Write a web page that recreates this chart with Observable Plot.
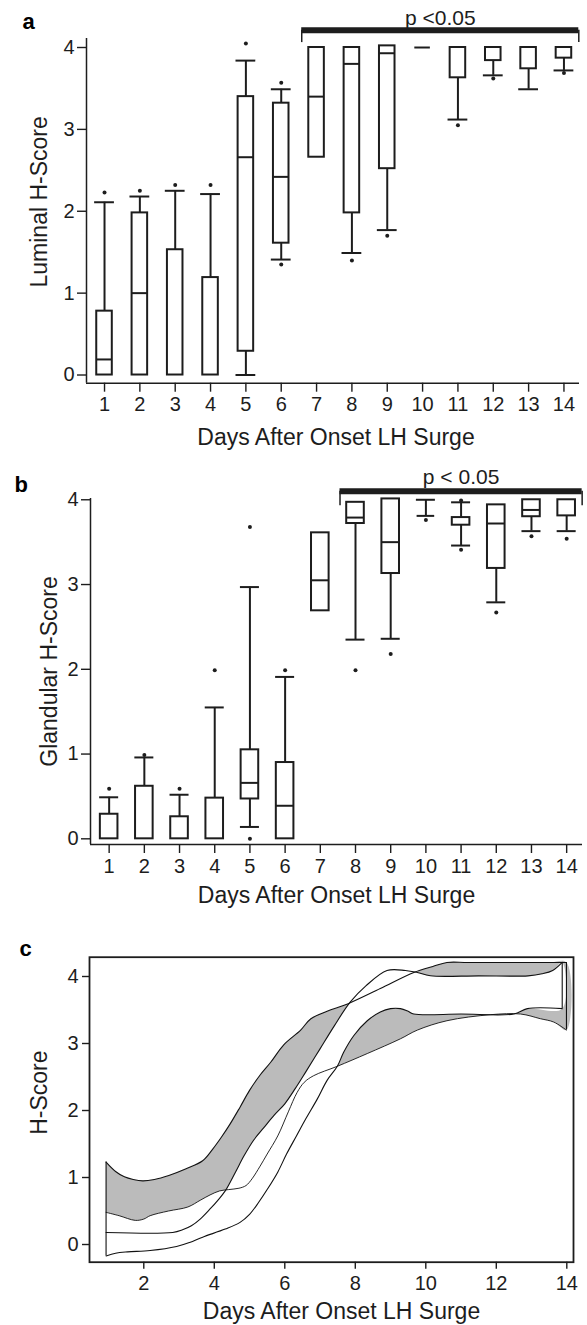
<!DOCTYPE html>
<html>
<head>
<meta charset="utf-8">
<script src="https://cdn.jsdelivr.net/npm/d3@7"></script>
<script src="https://cdn.jsdelivr.net/npm/@observablehq/plot@0.6"></script>
<style>
  html, body { margin: 0; padding: 0; background: #fff; }
  #chart { width: 587px; }
  #chart svg { display: block; }
</style>
</head>
<body>
<div id="chart"></div>
<script>
// ---------- shared ----------
const days = [1, 2, 3, 4, 5, 6, 7, 8, 9, 10, 11, 12, 13, 14];
const yTicks = [0, 1, 2, 3, 4];
const cTicksX = [2, 4, 6, 8, 10, 12, 14];
const xTitle = "Days After Onset LH Surge";

// ---------- panel a : Luminal H-Score ----------
const lumQ1  = [0, 0, 0, 0, 0.29, 1.61, 2.66, 1.98, 2.52, 4.00, 3.63, 3.84, 3.74, 3.87];
const lumMed = [0.19, 1.00, null, null, 2.66, 2.42, 3.40, 3.80, 3.93, 4.00, null, null, null, null];
const lumQ3  = [0.78, 1.98, 1.53, 1.19, 3.40, 3.32, 4.00, 4.00, 4.02, 4.00, 4.00, 4.00, 4.00, 4.00];
const lumLo  = [0, 0, 0, 0, 0, 1.41, 2.66, 1.49, 1.77, 4.00, 3.12, 3.66, 3.49, 3.72];
const lumHi  = [2.11, 2.18, 2.25, 2.21, 3.84, 3.49, 4.00, 4.00, 4.02, 4.00, 4.00, 4.00, 4.00, 4.00];
const lumOutDay = [1, 2, 3, 4, 5, 6, 6, 8, 9, 11, 12, 14];
const lumOutVal = [2.23, 2.25, 2.32, 2.32, 4.05, 3.57, 1.35, 1.40, 1.70, 3.05, 3.62, 3.69];
const lumSigDays = [7, 14];

// ---------- panel b : Glandular H-Score ----------
const glaQ1  = [0, 0, 0, 0, 0.47, 0, 2.69, 3.72, 3.13, 3.81, 3.70, 3.19, 3.80, 3.81];
const glaMed = [null, null, null, null, 0.66, 0.39, 3.05, 3.79, 3.50, 3.81, null, 3.72, 3.88, null];
const glaQ3  = [0.29, 0.62, 0.26, 0.48, 1.05, 0.90, 3.61, 3.97, 4.01, 3.81, 3.79, 3.94, 4.00, 4.00];
const glaLo  = [0, 0, 0, 0, 0.14, 0, 2.69, 2.35, 2.36, 3.81, 3.46, 2.79, 3.63, 3.63];
const glaHi  = [0.49, 0.96, 0.52, 1.55, 2.97, 1.91, 3.61, 3.97, 4.01, 4.00, 3.97, 3.94, 4.00, 4.00];
const glaOutDay = [1, 2, 3, 4, 5, 5, 6, 8, 9, 10, 11, 11, 12, 13, 14];
const glaOutVal = [0.59, 0.99, 0.59, 1.99, 3.68, 0.00, 1.99, 1.99, 2.18, 3.76, 3.99, 3.41, 2.67, 3.57, 3.54];
const glaSigDays = [8, 14];

// ---------- panel c : confidence bands [day, H-score] ----------
const lumUpperC = [[0.93,1.23],[1.2,1.09],[1.45,1.01],[1.7,0.97],[1.97,0.95],[2.3,0.97],[2.71,1.03],[3.2,1.13],[3.67,1.25],[3.95,1.42],[4.2,1.6],[4.45,1.8],[4.73,2.05],[5.0,2.3],[5.3,2.53],[5.6,2.72],[5.97,2.98],[6.45,3.2],[6.74,3.37],[7.2,3.48],[7.78,3.59],[8.71,3.82],[9.66,4.06],[10.2,4.15],[10.6,4.21],[11.2,4.21],[13.5,4.21],[13.99,4.21]];
const lumLowerC = [[0.93,0.48],[1.3,0.43],[1.76,0.36],[2.0,0.38],[2.18,0.43],[2.7,0.5],[3.25,0.56],[3.6,0.66],[3.88,0.74],[4.15,0.8],[4.41,0.82],[4.7,0.84],[4.9,0.88],[5.07,0.98],[5.3,1.17],[5.5,1.35],[5.8,1.62],[6.1,1.98],[6.35,2.27],[6.55,2.42],[6.82,2.52],[7.49,2.66],[8.34,2.85],[9.28,3.07],[9.76,3.2],[10.6,3.34],[11.84,3.43],[12.69,3.44],[13.25,3.37],[13.63,3.32],[13.99,3.2]];
const glaUpperC = [[0.93,0.18],[2.82,0.18],[3.1,0.22],[3.35,0.28],[3.6,0.38],[3.88,0.53],[4.1,0.66],[4.31,0.8],[4.6,1.08],[4.84,1.32],[5.12,1.56],[5.4,1.74],[5.7,1.93],[6.0,2.1],[6.3,2.33],[6.6,2.58],[7.0,2.92],[7.4,3.26],[7.86,3.62],[8.3,3.86],[8.9,4.09],[9.42,4.09],[9.76,4.06],[10.13,4.01],[11.5,4.01],[12.9,4.01],[13.3,4.04],[13.6,4.09],[13.87,4.21]];
const glaLowerC = [[0.93,-0.17],[1.2,-0.13],[1.54,-0.11],[2.18,-0.09],[2.93,-0.03],[3.3,0.03],[3.67,0.11],[4.31,0.23],[4.73,0.33],[5.0,0.45],[5.26,0.63],[5.5,0.82],[5.8,1.08],[6.05,1.35],[6.33,1.62],[6.6,1.88],[6.92,2.17],[7.2,2.45],[7.49,2.66],[7.67,2.87],[7.96,3.12],[8.34,3.34],[8.71,3.47],[9.0,3.52],[9.28,3.52],[9.5,3.48],[9.66,3.44],[11.0,3.44],[12.5,3.44],[12.88,3.52],[13.87,3.52]];

// ---------- drawing ----------
const INK = "#1d1d1d";
const FONT = "'Liberation Sans', Arial, Helvetica, sans-serif";

function boxPanel(o) {
  const rows = days.map((day, i) => ({day, q1: o.q1[i], med: o.med[i], q3: o.q3[i], lo: o.lo[i], hi: o.hi[i]}));
  const outs = o.outDay.map((day, i) => ({day, v: o.outVal[i]}));
  const upper = rows.filter(d => d.hi > d.q3);
  const lower = rows.filter(d => d.lo < d.q1);
  const sw = 2;
  const barX1 = o.sig[0] - o.sigPad, barX2 = o.sig[1] + o.sigPad;
  return Plot.plot({
    width: 587, height: o.height,
    marginLeft: o.ml, marginRight: o.mr, marginTop: o.mt, marginBottom: o.mb,
    x: {domain: o.xDomain, axis: null, label: null},
    y: {domain: o.yDomain, axis: null, label: null},
    style: {fontFamily: FONT, fontSize: "20px", color: INK, background: "white", overflow: "visible"},
    marks: [
      Plot.ruleX([o.xDomain[0]], {stroke: INK, strokeWidth: 1.5}),
      Plot.ruleY([o.yDomain[0]], {stroke: INK, strokeWidth: 1.5}),
      Plot.axisX({ticks: days, tickSize: 9, tickPadding: 5, label: null, tickFormat: d => String(d), strokeWidth: 1.4}),
      Plot.axisY({ticks: yTicks, tickSize: 9, tickPadding: 3, label: null, tickFormat: d => String(d), strokeWidth: 1.4}),
      // whiskers
      Plot.ruleX(upper, {x: "day", y1: "q3", y2: "hi", stroke: INK, strokeWidth: sw}),
      Plot.ruleX(lower, {x: "day", y1: "lo", y2: "q1", stroke: INK, strokeWidth: sw}),
      Plot.ruleY(upper, {y: "hi", x1: d => d.day - o.capW, x2: d => d.day + o.capW, stroke: INK, strokeWidth: sw}),
      Plot.ruleY(lower, {y: "lo", x1: d => d.day - o.capW, x2: d => d.day + o.capW, stroke: INK, strokeWidth: sw}),
      // boxes
      Plot.rect(rows, {x1: d => d.day - o.boxW, x2: d => d.day + o.boxW, y1: "q1", y2: "q3", fill: "white", stroke: INK, strokeWidth: sw}),
      Plot.ruleY(rows.filter(d => d.med != null), {y: "med", x1: d => d.day - o.boxW, x2: d => d.day + o.boxW, stroke: INK, strokeWidth: sw}),
      // outliers
      Plot.dot(outs, {x: "day", y: "v", r: 2, fill: INK, stroke: "none"}),
      // significance bar
      Plot.ruleY([o.sig], {y: o.barY, x1: () => barX1, x2: () => barX2, stroke: INK, strokeWidth: 6}),
      Plot.ruleX([barX1, barX2], {x: d => d, y1: o.barY, y2: o.barTickY, stroke: INK, strokeWidth: 1.5}),
      Plot.text([o.pLabel], {x: () => (barX1 + barX2) / 2, y: o.pY, fontSize: 21, fill: INK, lineAnchor: "middle"}),
      // labels
      Plot.text([o.yLabel], {frameAnchor: "left", rotate: -90, dx: o.yLabDx, dy: o.yLabDy, fontSize: 23, fill: INK, lineAnchor: "middle", textAnchor: "middle"}),
      Plot.text([xTitle], {frameAnchor: "bottom", dy: o.xTitleDy, dx: o.xTitleDx, fontSize: 23, fill: INK, lineAnchor: "middle"}),
      Plot.text([o.letter], {frameAnchor: "top-left", dx: o.letDx, dy: o.letDy, fontSize: 22, fontWeight: "bold", fill: "#000", lineAnchor: "middle", textAnchor: "middle"})
    ]
  });
}

const svgA = boxPanel({
  height: 455, ml: 86, mr: 8, mt: 38, mb: 72.3,
  xDomain: [0.49, 14.44], yDomain: [-0.10, 4.11],
  q1: lumQ1, med: lumMed, q3: lumQ3, lo: lumLo, hi: lumHi, outDay: lumOutDay, outVal: lumOutVal,
  boxW: 0.22, capW: 0.28,
  sig: lumSigDays, sigPad: 0.42, barY: 4.21, barTickY: 4.06, pLabel: "p <0.05", pY: 4.36,
  yLabel: "Luminal H-Score", yLabDx: -47, yLabDy: -9,
  xTitleDy: 54, xTitleDx: 3,
  letter: "a", letDx: -58, letDy: -16.7
});

const svgB = boxPanel({
  height: 455, ml: 90, mr: 5, mt: 43, mb: 66,
  xDomain: [0.47, 14.45], yDomain: [-0.067, 4.015],
  q1: glaQ1, med: glaMed, q3: glaQ3, lo: glaLo, hi: glaHi, outDay: glaOutDay, outVal: glaOutVal,
  boxW: 0.25, capW: 0.27,
  sig: glaSigDays, sigPad: 0.44, barY: 4.10, barTickY: 3.93, pLabel: "p < 0.05", pY: 4.263,
  yLabel: "Glandular H-Score", yLabDx: -41.3, yLabDy: 0,
  xTitleDy: 51, xTitleDx: 0,
  letter: "b", letDx: -69.4, letDy: -13.3
});

// panel c
const polyLum = [...lumUpperC, ...lumLowerC.slice().reverse()];
const polyGla = [...glaUpperC, ...glaLowerC.slice().reverse()];
const px = d => d[0], py = d => d[1];
const first = a => a[0], last = a => a[a.length - 1];
const edges = [
  {x: first(lumUpperC)[0], y1: first(glaLowerC)[1], y2: first(lumUpperC)[1]},
  {x: last(glaUpperC)[0], y1: last(glaLowerC)[1], y2: last(glaUpperC)[1]},
  {x: last(lumUpperC)[0], y1: last(lumLowerC)[1], y2: last(lumUpperC)[1]}
];

const svgC = Plot.plot({
  width: 587, height: 415,
  marginLeft: 89, marginRight: 14, marginTop: 46.7, marginBottom: 63.3,
  x: {domain: [0.46, 14.19], axis: null, label: null},
  y: {domain: [-0.264, 4.288], axis: null, label: null},
  style: {fontFamily: FONT, fontSize: "20px", color: INK, background: "white", overflow: "visible"},
  marks: [
    Plot.line(polyLum, {x: px, y: py, fill: "#bbbbbb", stroke: "none", curve: "catmull-rom"}),
    Plot.line(polyGla, {x: px, y: py, fill: "white", stroke: "none", curve: "catmull-rom"}),
    Plot.line(lumUpperC, {x: px, y: py, stroke: "#111", strokeWidth: 1.1, curve: "catmull-rom"}),
    Plot.line(lumLowerC, {x: px, y: py, stroke: "#111", strokeWidth: 0.9, curve: "catmull-rom"}),
    Plot.line(glaUpperC, {x: px, y: py, stroke: "#111", strokeWidth: 1.1, curve: "catmull-rom"}),
    Plot.line(glaLowerC, {x: px, y: py, stroke: "#111", strokeWidth: 1.1, curve: "catmull-rom"}),
    Plot.ruleX(edges, {x: "x", y1: "y1", y2: "y2", stroke: "#111", strokeWidth: 1.1}),
    Plot.frame({stroke: INK, strokeWidth: 1.8}),
    Plot.axisX({ticks: cTicksX, tickSize: 7, tickPadding: 7, label: null, tickFormat: d => String(d), strokeWidth: 1.4}),
    Plot.axisY({ticks: yTicks, tickSize: 7, tickPadding: 4, label: null, tickFormat: d => String(d), strokeWidth: 1.4}),
    Plot.text(["H-Score"], {frameAnchor: "left", rotate: -90, dx: -50, dy: -17, fontSize: 23, fill: INK, lineAnchor: "middle", textAnchor: "middle"}),
    Plot.text([xTitle], {frameAnchor: "bottom", dy: 49.5, dx: 10, fontSize: 23, fill: INK, lineAnchor: "middle"}),
    Plot.text(["c"], {frameAnchor: "top-left", dx: -64, dy: -8.7, fontSize: 22, fontWeight: "bold", fill: "#000", lineAnchor: "middle", textAnchor: "middle"})
  ]
});

const chart = document.getElementById("chart");
chart.append(svgA, svgB, svgC);
</script>
</body>
</html>
